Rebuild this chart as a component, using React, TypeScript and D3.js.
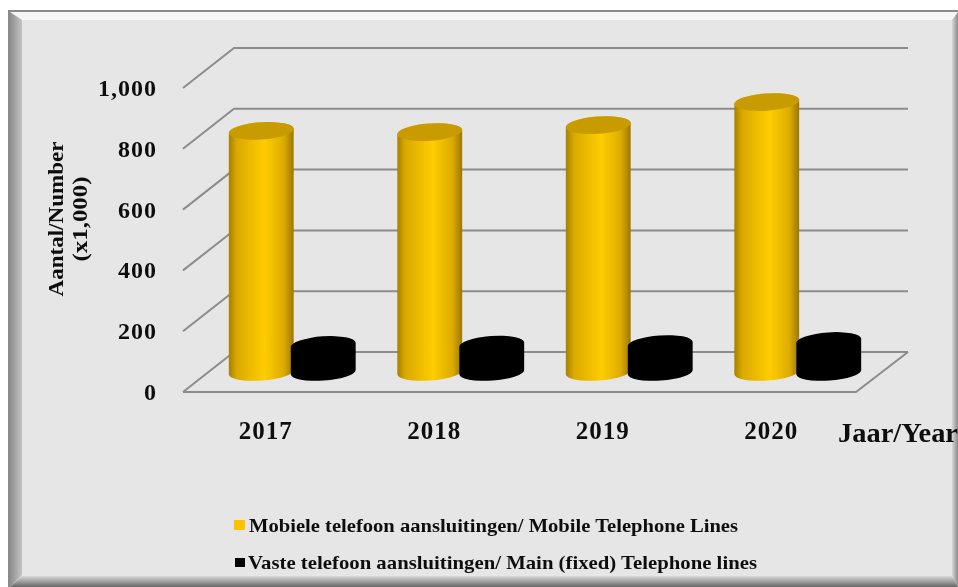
import React from "react";
import * as d3 from "d3";

const years = ["2017", "2018", "2019", "2020"];
const mobileValues = [793, 789, 812, 888];
const fixedValues = [89, 90, 92, 102];
const yTicks = [0, 200, 400, 600, 800, 1000];
const legendLabels = [
  "Mobiele telefoon aansluitingen/ Mobile Telephone Lines",
  "Vaste telefoon aansluitingen/ Main (fixed) Telephone lines",
];
const yTitle = ["Aantal/Number", "(x1,000)"];
const xTitle = "Jaar/Year";

const W = 958, H = 587;
const FONT = "'Liberation Serif', serif";
const front = { x0: 183, x1: 856 };
const depth = { dx: 51, dy: -40 };
const y = d3.scaleLinear().domain([0, 1000]).range([392, 88]);
const x = d3.scaleBand<string>().domain(years).range([177, 851]).paddingInner(0).paddingOuter(0);
const BASE_OFFSET = -20; // cylinder base centre relative to the front floor line
const RX = 32.5, RY = 8.6, ROT = -4;

function cylinder(cx: number, base: number, top: number, rx: number, ry: number) {
  const a = (ROT * Math.PI) / 180;
  const ex = rx * Math.cos(a), ey = rx * Math.sin(a);
  return `M${cx - ex},${top - ey} A${rx},${ry} ${ROT} 0 1 ${cx + ex},${top + ey} L${cx + ex},${base + ey} A${rx},${ry} ${ROT} 0 1 ${cx - ex},${base - ey} Z`;
}

export default function App() {
  const bw = x.bandwidth();
  return (
    <svg width={W} height={H} style={{ position: "absolute", left: 0, top: 0, background: "#fff" }} fontFamily={FONT}>
      <defs>
        <linearGradient id="gold" x1="0" x2="1" y1="0" y2="0">
          <stop offset="0" stopColor="#a67f00" />
          <stop offset="0.12" stopColor="#d9a900" />
          <stop offset="0.55" stopColor="#ffcd00" />
          <stop offset="0.85" stopColor="#dcab00" />
          <stop offset="1" stopColor="#9c7700" />
        </linearGradient>
        <linearGradient id="bl" x1="0" x2="1" y1="0" y2="0">
          <stop offset="0" stopColor="#8e8e8e" /><stop offset="1" stopColor="#c4c4c4" />
        </linearGradient>
        <linearGradient id="bb" x1="0" x2="0" y1="0" y2="1">
          <stop offset="0" stopColor="#d8d8d8" /><stop offset="1" stopColor="#666" />
        </linearGradient>
        <linearGradient id="br" x1="0" x2="1" y1="0" y2="0">
          <stop offset="0" stopColor="#d8d8d8" /><stop offset="1" stopColor="#8a8a8a" />
        </linearGradient>
        <filter id="soft" x="-5%" y="-5%" width="110%" height="110%"><feGaussianBlur stdDeviation="0.5" /></filter>
      </defs>

      {/* frame */}
      <rect x={8} y={10} width={950} height={577} fill="#8a8a8a" />
      <rect x={10} y={12} width={948} height={575} fill="#e6e6e6" />
      <polygon points="10,12 958,12 952,20 22,20" fill="#f6f6f6" />
      <polygon points="10,12 22,20 22,575 10,587" fill="url(#bl)" />
      <polygon points="952,20 958,12 958,587 952,576" fill="url(#br)" />
      <polygon points="10,587 22,576 952,576 958,587" fill="url(#bb)" />

      {/* walls */}
      <g stroke="#8c8c8c" strokeWidth={2} fill="none" filter="url(#soft)">
        {yTicks.map((t) => (
          <polyline key={t} points={`${front.x0},${y(t)} ${front.x0 + depth.dx},${y(t) + depth.dy} ${front.x0 + depth.dx + 674},${y(t) + depth.dy}`} />
        ))}
        <polyline points={`${front.x0},${y(0)} ${front.x1},${y(0)} ${front.x0 + depth.dx + 674},${y(0) + depth.dy}`} />
      </g>

      {/* cylinders */}
      <g filter="url(#soft)">
        {years.map((yr, i) => {
          const gx = (x(yr) as number) + bw * 0.5;
          const kx = gx + 62;
          const base = y(0) + BASE_OFFSET;
          const gt = base - (y(0) - y(mobileValues[i]));
          const kt = base - (y(0) - y(fixedValues[i]));
          return (
            <g key={yr}>
              <path d={cylinder(gx, base, gt, RX, RY)} fill="url(#gold)" />
              <ellipse cx={gx} cy={gt} rx={RX} ry={RY} transform={`rotate(${ROT} ${gx} ${gt})`} fill="#c89b00" />
              <path d={cylinder(kx, base, kt, RX, RY)} fill="#000" />
            </g>
          );
        })}
      </g>

      <g filter="url(#soft)" fontWeight={700} fill="#111">
        {yTicks.map((t) => (
          <text key={t} x={157} y={y(t) + 8} textAnchor="end" fontSize={24} letterSpacing={1}>{d3.format(",")(t)}</text>
        ))}
        {years.map((yr) => (
          <text key={yr} x={(x(yr) as number) + x.step() / 2 + 4.5} y={439} textAnchor="middle" fontSize={25} letterSpacing={1}>{yr}</text>
        ))}
        <text x={838} y={442} fontSize={27} textLength={120} lengthAdjust="spacingAndGlyphs">{xTitle}</text>
        <g transform="translate(63,219) rotate(-90)" fontSize={21} textAnchor="middle">
          <text x={0} y={0} textLength={155} lengthAdjust="spacingAndGlyphs">{yTitle[0]}</text>
          <text x={0} y={24} textLength={85} lengthAdjust="spacingAndGlyphs">{yTitle[1]}</text>
        </g>
        <rect x={234} y={520} width={11} height={10} fill="#ffc000" />
        <text x={249} y={532} fontSize={19.5} textLength={489} lengthAdjust="spacingAndGlyphs">{legendLabels[0]}</text>
        <rect x={235} y={558} width={10} height={9} fill="#000" />
        <text x={248} y={568.5} fontSize={19.5} textLength={509} lengthAdjust="spacingAndGlyphs">{legendLabels[1]}</text>
      </g>
    </svg>
  );
}
